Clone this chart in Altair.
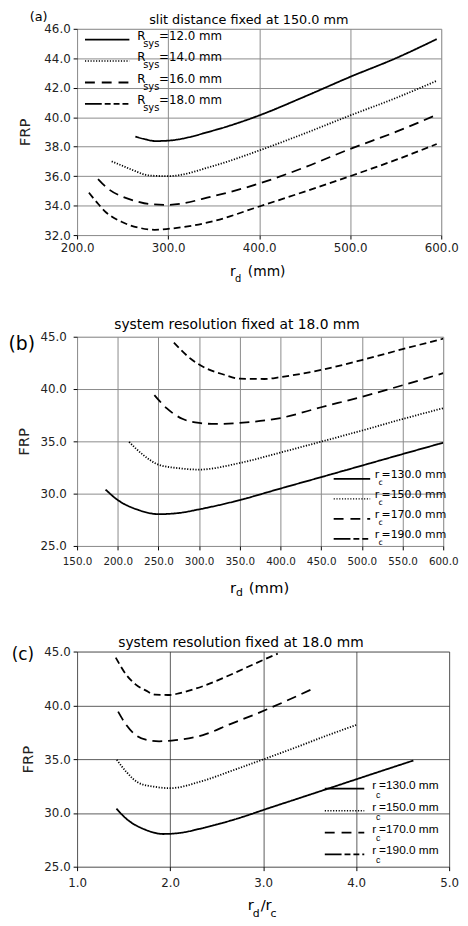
import altair as alt
import pandas as pd

# ---------------- data: panel (a)  (FRP vs r_d, slit distance 150 mm) ----------------
A_KEYS = ["12.0", "14.0", "16.0", "18.0"]
A_RD_12 = [264, 275, 286, 300, 350, 400, 450, 500, 550, 595]
A_FRP_12 = [38.68, 38.5, 38.38, 38.41, 39.1, 40.12, 41.4, 42.74, 44.0, 45.3]
A_RD_14 = [238, 250, 260, 280, 300, 350, 400, 450, 500, 550, 595]
A_FRP_14 = [37.0, 36.7, 36.44, 36.04, 36.0, 36.7, 37.74, 38.9, 40.12, 41.3, 42.47]
A_RD_16 = [223, 235, 250, 265, 280, 300, 350, 400, 450, 500, 550, 595]
A_FRP_16 = [35.8, 35.1, 34.6, 34.3, 34.1, 34.05, 34.65, 35.5, 36.6, 37.85, 39.0, 40.17]
A_RD_18 = [213, 222, 230, 250, 270, 285, 300, 350, 400, 450, 500, 550, 595]
A_FRP_18 = [34.88, 34.2, 33.65, 32.87, 32.47, 32.36, 32.42, 32.95, 33.94, 34.95, 36.0, 37.1, 38.18]

# ---------------- data: panels (b) and (c)  (system resolution 18 mm) ----------------
B_RC = [130, 150, 170, 190]
B_RD_130 = [185, 200, 225, 250, 275, 300, 350, 400, 450, 500, 550, 600]
B_FRP_130 = [30.39, 29.39, 28.45, 28.04, 28.15, 28.5, 29.39, 30.49, 31.58, 32.68, 33.78, 34.87]
B_RD_150 = [214, 230, 250, 275, 300, 350, 400, 450, 500, 550, 600]
B_FRP_150 = [34.94, 33.78, 32.77, 32.43, 32.3, 32.93, 33.93, 34.97, 36.03, 37.13, 38.17]
B_RD_170 = [245, 260, 280, 300, 320, 350, 400, 450, 500, 550, 600]
B_FRP_170 = [39.42, 38.17, 37.13, 36.76, 36.66, 36.76, 37.23, 38.26, 39.26, 40.36, 41.52]
B_RD_190 = [269, 290, 310, 330, 350, 380, 400, 450, 500, 550, 600]
B_FRP_190 = [44.44, 42.87, 41.93, 41.39, 40.99, 40.96, 41.14, 41.83, 42.77, 43.81, 44.81]

A_XTICKS = [200, 300, 400, 500, 600]
A_YTICKS = [32, 34, 36, 38, 40, 42, 44, 46]
B_XTICKS = [150, 200, 250, 300, 350, 400, 450, 500, 550, 600]
B_YTICKS = [25, 30, 35, 40, 45]
C_XTICKS = [1, 2, 3, 4, 5]
C_YTICKS = [25, 30, 35, 40, 45]

TITLE_A = "slit distance fixed at 150.0 mm"
TITLE_BC = "system resolution fixed at 18.0 mm"
A_LABELS = ["=12.0 mm", "=14.0 mm", "=16.0 mm", "=18.0 mm"]
BC_LABELS = ["=130.0 mm", "=150.0 mm", "=170.0 mm", "=190.0 mm"]

FONT = "DejaVu Sans"
FONT_C = "Liberation Sans"
SOLID = [1, 0]
DOT = [1.2, 1.6]
DASH = [10, 6]
DASH2 = [7, 4]
DASHES = [SOLID, DOT, DASH, DASH2]
LEG_DASHES = [SOLID, DOT, [10, 7], [17, 3, 6, 3, 6, 3, 6]]


def long_df(xs_list, ys_list, keys):
    frames = [pd.DataFrame({"rd": xs, "frp": ys, "series": str(k)})
              for xs, ys, k in zip(xs_list, ys_list, keys)]
    return pd.concat(frames, ignore_index=True)


df_a = long_df([A_RD_12, A_RD_14, A_RD_16, A_RD_18],
               [A_FRP_12, A_FRP_14, A_FRP_16, A_FRP_18], A_KEYS)
df_b = long_df([B_RD_130, B_RD_150, B_RD_170, B_RD_190],
               [B_FRP_130, B_FRP_150, B_FRP_170, B_FRP_190], B_RC)
df_b["rc"] = df_b["series"].astype(int)
B_KEYS = [str(k) for k in B_RC]


def axis(values, title=None, grid_color="#8a8a8a", grid_width=1.0, label_size=12, title_pad=10,
         label_pad=3):
    kw = dict(values=values, format=".1f", grid=True, gridColor=grid_color, gridWidth=grid_width,
              gridOpacity=1, domain=False, ticks=True, tickColor="black", tickSize=4, tickWidth=1,
              labelFont=FONT, labelFontSize=label_size, labelColor="#222222", labelPadding=label_pad,
              labelFlush=False, labelOverlap=False)
    if title is None:
        kw["title"] = None
    else:
        kw.update(title=title, titleFont=FONT, titleFontSize=15, titleFontWeight="normal",
                  titleColor="#222222", titlePadding=title_pad)
    return alt.Axis(**kw)


def one_row():
    return alt.Chart(pd.DataFrame({"k": [0]}))


def txt(x, y, s, size, font=FONT, align="left"):
    return one_row().mark_text(text=s, align=align, baseline="middle", fontSize=size, font=font,
                               color="black").encode(x=alt.value(x), y=alt.value(y))


def seg(x1, x2, y, dash, width=1.8):
    return one_row().mark_rule(color="black", strokeWidth=width, strokeDash=dash).encode(
        x=alt.value(x1), x2=alt.value(x2), y=alt.value(y))


def legend(x1, x2, y0, step, main, sub, labels, xm, xs, xr, fs, fs_sub, font, dy, sub_dy):
    layers = []
    for i, lab in enumerate(labels):
        y = y0 + i * step
        layers.append(seg(x1, x2, y, LEG_DASHES[i], 1.5 if i == 1 else 1.8))
        layers.append(txt(xm, y + dy, main, fs, font))
        layers.append(txt(xs, y + sub_dy, sub, fs_sub, font))
        layers.append(txt(xr, y + dy, lab, fs, font))
    return layers


def curves(chart, xfield, xdom, ydom, keys, xaxis, yaxis):
    return chart.mark_line(color="black", strokeWidth=1.8, interpolate="monotone", clip=True).encode(
        x=alt.X(f"{xfield}:Q", scale=alt.Scale(domain=xdom, nice=False, zero=False), axis=xaxis),
        y=alt.Y("frp:Q", scale=alt.Scale(domain=ydom, nice=False, zero=False), axis=yaxis),
        strokeDash=alt.StrokeDash("series:N", scale=alt.Scale(domain=keys, range=DASHES), legend=None),
    )


# ---------------- panel (a) ----------------
W_A, H_A = 369, 209
lines_a = curves(alt.Chart(df_a), "rd", [200, 600], [32, 46], A_KEYS,
                 axis(A_XTICKS, label_pad=4), axis(A_YTICKS, "FRP", title_pad=11))
panel_a = alt.layer(
    lines_a,
    *legend(8, 53, 11, 21.7, "R", "sys", A_LABELS, 61, 67, 83, 12, 10, FONT, -4, 4.5),
    txt(-39, -12, "(a)", 13, align="center"),
    txt(174, -9, TITLE_A, 13, align="center"),
    txt(155, H_A + 37, "r", 14), txt(160, H_A + 44.5, "d", 10), txt(173, H_A + 37, "(mm)", 14),
).properties(width=W_A, height=H_A)

# ---------------- panel (b) ----------------
W_B, H_B = 371, 212
lines_b = curves(alt.Chart(df_b), "rd", [150, 600], [25, 45], B_KEYS,
                 axis(B_XTICKS, label_size=10.5, label_pad=7),
                 axis(B_YTICKS, "FRP", title_pad=8, label_pad=7))
panel_b = alt.layer(
    lines_b,
    *legend(260, 297, 144, 20.3, "r", "c", BC_LABELS, 301.5, 305.5, 308.5, 11, 8, FONT, -3.5, 4.5),
    txt(-56, 7, "(b)", 19, align="center"),
    txt(162, -12, TITLE_BC, 14, align="center"),
    txt(155, H_B + 42.5, "r", 15), txt(161, H_B + 48, "d", 11), txt(174, H_B + 42.5, "(mm)", 15),
).properties(width=W_B, height=H_B)

# ---------------- panel (c) ----------------
W_C, H_C = 377, 218
lines_c = curves(alt.Chart(df_b).transform_calculate(ratio="datum.rd / datum.rc"), "ratio",
                 [1, 5], [25, 45], B_KEYS,
                 axis(C_XTICKS, grid_color="#333333", grid_width=0.8, label_pad=7),
                 axis(C_YTICKS, "FRP", grid_color="#333333", grid_width=0.8, title_pad=8))
panel_c = alt.layer(
    lines_c,
    *legend(251, 291, 139, 22.2, "r", "c", BC_LABELS, 299, 303, 306, 12, 9, FONT_C, -4, 6),
    txt(-55, 4, "(c)", 17, align="center"),
    txt(166, -9, TITLE_BC, 14, align="center"),
    txt(173, H_C + 39, "r", 15), txt(178, H_C + 48, "d", 11), txt(186, H_C + 39, "/", 15),
    txt(191, H_C + 39, "r", 15), txt(196, H_C + 48, "c", 11),
).properties(width=W_C, height=H_C)

top = alt.vconcat(panel_a, panel_b, spacing=33)
chart = alt.vconcat(top, panel_c, spacing=36).properties(
    padding={"top": -4, "left": 0, "right": 0, "bottom": 0}
).configure_view(stroke="black", strokeWidth=1.5).configure(background="white")

chart.save("out.html", embed_options={"renderer": "svg", "actions": False})
